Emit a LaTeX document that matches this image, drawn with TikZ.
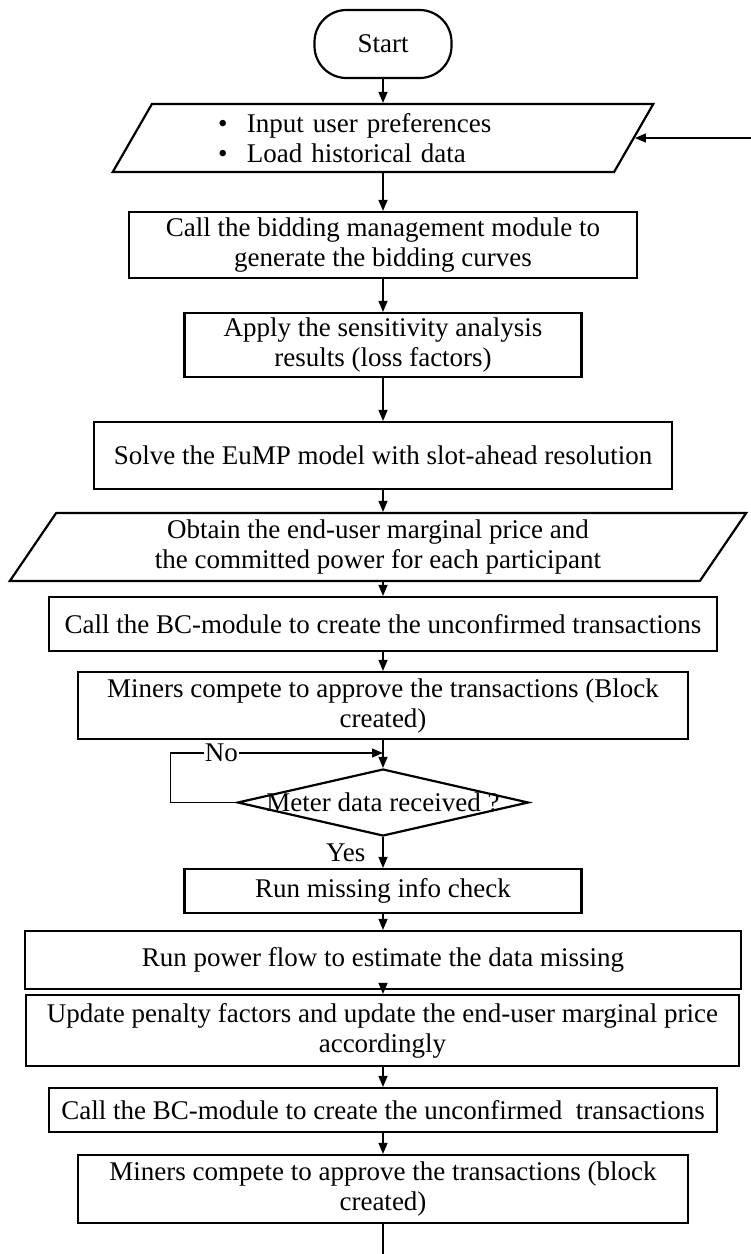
\documentclass[tikz,border=0pt]{standalone}
\usepackage{fontspec}
\setmainfont{Liberation Serif}
\usetikzlibrary{shapes.geometric,arrows.meta}

\begin{document}
\begin{tikzpicture}[x=1pt,y=-1pt,
  every node/.style={font=\fontsize{27}{30}\selectfont},
  proc/.style={draw, line width=2.2pt, rectangle, inner sep=2pt, align=center},
  io/.style={draw, line width=2.2pt, trapezium, trapezium stretches=true,
             inner sep=2pt, align=center},
  flow/.style={line width=1.3pt, -{Triangle[length=11pt,width=9pt]}},
  plain/.style={line width=1.3pt},
]
\useasboundingbox (0,0) rectangle (751,1254);

% terminal
\node[draw, line width=2.2pt, rounded corners=32pt,
      minimum width=137pt, minimum height=68pt] (start) at (383,44) {Start};

% inputs
\node[io, trapezium left angle=62, trapezium right angle=118,
      minimum width=543pt, minimum height=68pt, text width=330pt, align=left]
  (in1) at (383,138)
  {\makebox[29pt][l]{\textbullet}Input user preferences\\
   \makebox[29pt][l]{\textbullet}Load historical data};

% processing chain
\node[proc, minimum width=508pt, minimum height=66pt] (b2) at (383,245)
  {Call the bidding management module to\\generate the bidding curves};
\node[proc, minimum width=397pt, minimum height=64pt] (b3) at (383,345)
  {Apply the sensitivity analysis\\results (loss factors)};
\node[proc, minimum width=578pt, minimum height=67pt] (b4) at (383,455.5)
  {Solve the EuMP model with slot-ahead resolution};
\node[io, trapezium left angle=61, trapezium right angle=119,
      minimum width=738pt, minimum height=68pt] (in2) at (378,547)
  {Obtain the end-user marginal price and\\the committed power for each participant};
\node[proc, minimum width=668pt, minimum height=54pt] (b5) at (383,624)
  {Call the BC-module to create the unconfirmed transactions};
\node[proc, minimum width=610pt, minimum height=67pt] (b6) at (383,705.5)
  {Miners compete to approve the transactions (Block\\created)};

% decision
\node[draw, diamond, line width=2.2pt, minimum width=291pt, minimum height=67pt,
      inner sep=0pt, label={center:Meter data received ?}] (d) at (383,802.5) {};

\node[proc, minimum width=397pt, minimum height=44pt] (b7) at (383,891)
  {Run missing info check};
\node[proc, minimum width=716pt, minimum height=58pt] (b8) at (383,960)
  {Run power flow to estimate the data missing};
\node[proc, minimum width=713pt, minimum height=71pt] (b9) at (382.5,1030.5)
  {Update penalty factors and update the end-user marginal price\\accordingly};
\node[proc, minimum width=668pt, minimum height=44pt] (b10) at (383,1110)
  {Call the BC-module to create the unconfirmed\ \ transactions};
\node[proc, minimum width=610pt, minimum height=68pt] (b11) at (383,1189)
  {Miners compete to approve the transactions (block\\created)};

% free ends and junctions
\coordinate (fb) at (751,138);
\coordinate (m) at (383,753);
\coordinate (fin) at (383,1254);

% connectors
\draw[flow] (start.south) -- (start.south |- in1.north);
\draw[flow] (fb) -- (fb -| in1.east);
\draw[flow] (in1.south -| start.south) -- (start.south |- b2.north);
\draw[flow] (b2.south) -- (b2.south |- b3.north);
\draw[flow] (b3.south) -- (b3.south |- b4.north);
\draw[flow] (b4.south) -- (b4.south |- in2.north);
\draw[flow] (b4.south |- in2.south) -- (b4.south |- b5.north);
\draw[flow] (b5.south) -- (b5.south |- b6.north);
\draw[flow] (b6.south) -- (d.north);
\draw[flow] (d.west) -- ++(-66,0) |- node[pos=0.62, fill=white, inner sep=1pt] {No} (m);
\draw[flow] (d.south) -- node[left=15pt, inner sep=2pt] {Yes} (d.south |- b7.north);
\draw[flow] (b7.south) -- (b7.south |- b8.north);
\draw[flow] (b8.south -| b7.south) -- (b7.south |- b9.north);
\draw[flow] (b9.south -| b7.south) -- (b7.south |- b10.north);
\draw[flow] (b10.south) -- (b10.south |- b11.north);
\draw[plain] (b11.south) -- (fin);
\end{tikzpicture}
\end{document}
